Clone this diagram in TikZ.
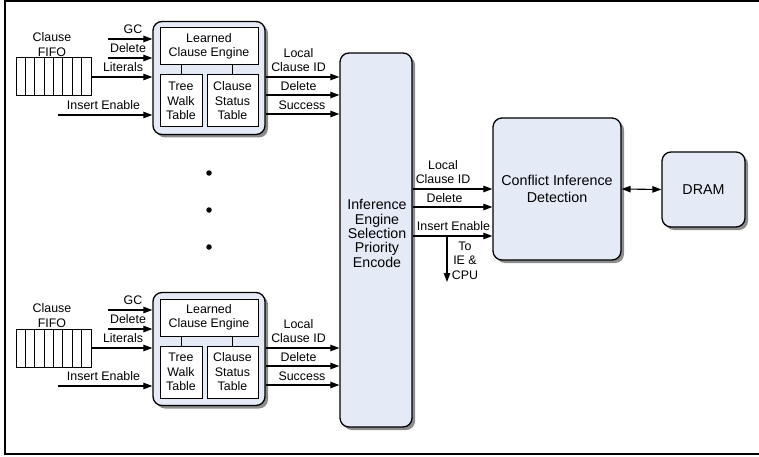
\documentclass[tikz,border=0pt]{standalone}
\usepackage{fontspec}
\setmainfont{Liberation Sans}
\usetikzlibrary{arrows.meta,shadows}
\definecolor{blockfill}{RGB}{228,235,246}
\definecolor{shadowgray}{RGB}{140,140,140}
\begin{document}
\begin{tikzpicture}[x=1pt,y=-1pt,
  lbl/.style={font=\fontsize{12.4}{14.5}\selectfont, align=center, inner sep=0pt},
  big/.style={font=\fontsize{14.3}{16.5}\selectfont, align=center, inner sep=0pt},
  blk/.style={draw, line width=1.3pt, rounded corners=9pt, fill=blockfill,
    drop shadow={shadow xshift=3pt,shadow yshift=-3pt,fill=shadowgray,opacity=1}, inner sep=0pt},
  wbox/.style={draw, line width=1pt, fill=white, inner sep=0pt, lbl},
  arr/.style={line width=1.1pt, -{Triangle[length=9pt,width=6.5pt]}},
  dotnode/.style={circle, fill=black, inner sep=0pt, minimum size=5.5pt},
]
\useasboundingbox (0,0) rectangle (759,457);
\draw[line width=1.3pt] (765,1) -- (5,1) -- (5,454) -- (765,454);

% selection block
\node[blk, minimum width=72pt, minimum height=374pt] (sel) at (376,240) {};
\node[big, font=\fontsize{14.2}{14.3}\selectfont] (seltxt) at (377,233.5) {Inference\\Engine\\Selection\\Priority\\Encode};

\foreach \o/\n in {0/a,271/b}{
  \node[blk, minimum width=112pt, minimum height=113pt] (eng\n) at (209,{78+\o}) {};
  \node[wbox, minimum width=98pt, minimum height=37pt] (lce\n) at (209,{46.5+\o}) {Learned\\Clause Engine};
  \node[wbox, minimum width=42pt, minimum height=52pt] (tw\n) at (181,{101+\o}) {Tree\\Walk\\Table};
  \node[wbox, minimum width=51pt, minimum height=52pt] (cs\n) at (232.5,{101+\o}) {Clause\\Status\\Table};
  \draw[line width=1pt] (lce\n.south -| tw\n.north) -- (tw\n.north);
  \draw[line width=1pt] (lce\n.south -| cs\n.north) -- (cs\n.north);
  % FIFO
  \node[draw, line width=1pt, minimum width=75pt, minimum height=38pt, inner sep=0pt] (fifo\n) at (53.5,{77+\o}) {};
  \foreach \k in {1,...,7}{
    \draw[line width=1pt] ({16+\k*75/8},{58+\o}) -- ({16+\k*75/8},{96+\o});
  }
  \node[lbl] (ff\n) at (52,{44.5+\o}) {Clause\\FIFO};
  % inputs
  \coordinate (gc\n) at (108,{39+\o});
  \coordinate (del\n) at (108,{58+\o});
  \coordinate (lit\n) at (100,{77+\o});
  \coordinate (ins\n) at (58,{115+\o});
  \draw[arr] (gc\n) -- (gc\n -| eng\n.west);
  \draw[arr] (del\n) -- (del\n -| eng\n.west);
  \draw[arr] (lit\n -| fifo\n.east) -- (lit\n -| eng\n.west);
  \draw[arr] (ins\n) -- (ins\n -| eng\n.west);
  \node[lbl] (lgc\n) at (133,{29+\o}) {GC};
  \node[lbl] (ldel\n) at (128,{48+\o}) {Delete};
  \node[lbl] (llit\n) at (123,{67+\o}) {Literals};
  \node[lbl] (lins\n) at (103.5,{105+\o}) {Insert Enable};
  % outputs
  \coordinate (o1\n) at (300,{77+\o});
  \coordinate (o2\n) at (300,{95+\o});
  \coordinate (o3\n) at (300,{114+\o});
  \draw[arr] (o1\n -| eng\n.east) -- (o1\n -| sel.west);
  \draw[arr] (o2\n -| eng\n.east) -- (o2\n -| sel.west);
  \draw[arr] (o3\n -| eng\n.east) -- (o3\n -| sel.west);
  \node[lbl] (lo1\n) at (298.5,{60+\o}) {Local\\Clause ID};
  \node[lbl] (lo2\n) at (298.5,{86+\o}) {Delete};
  \node[lbl] (lo3\n) at (302,{105+\o}) {Success};
}

% dots
\node[dotnode] (dot1) at (209,173) {};
\node[dotnode] (dot2) at (209,210) {};
\node[dotnode] (dot3) at (209,247) {};

% conflict and DRAM
\node[blk, big, minimum width=128pt, minimum height=142pt] (cid) at (557,189) {Conflict Inference\\Detection};
\node[blk, big, minimum width=83pt, minimum height=75pt] (dram) at (703.5,189.5) {DRAM};
\draw[line width=1.1pt, {Triangle[length=9pt,width=6.5pt]}-{Triangle[length=9pt,width=6.5pt]}] (cid.east) -- (dram.west);

% selection outputs
\coordinate (s1) at (450,189);
\coordinate (s2) at (450,207);
\coordinate (s3) at (450,236);
\draw[arr] (s1 -| sel.east) -- (s1 -| cid.west);
\draw[arr] (s2 -| sel.east) -- (s2 -| cid.west);
\draw[arr] (s3 -| sel.east) -- (s3 -| cid.west);
\coordinate (tap) at (447,236);
\coordinate (dn) at (447,282);
\draw[arr] (tap) -- (dn);
\node[lbl] (ls1) at (443,172) {Local\\Clause ID};
\node[lbl] (ls2) at (444.5,198) {Delete};
\node[lbl] (ls3) at (453.5,226) {Insert Enable};
\node[lbl] (ls4) at (465,260.5) {To\\IE \&\\CPU};
\end{tikzpicture}
\end{document}
